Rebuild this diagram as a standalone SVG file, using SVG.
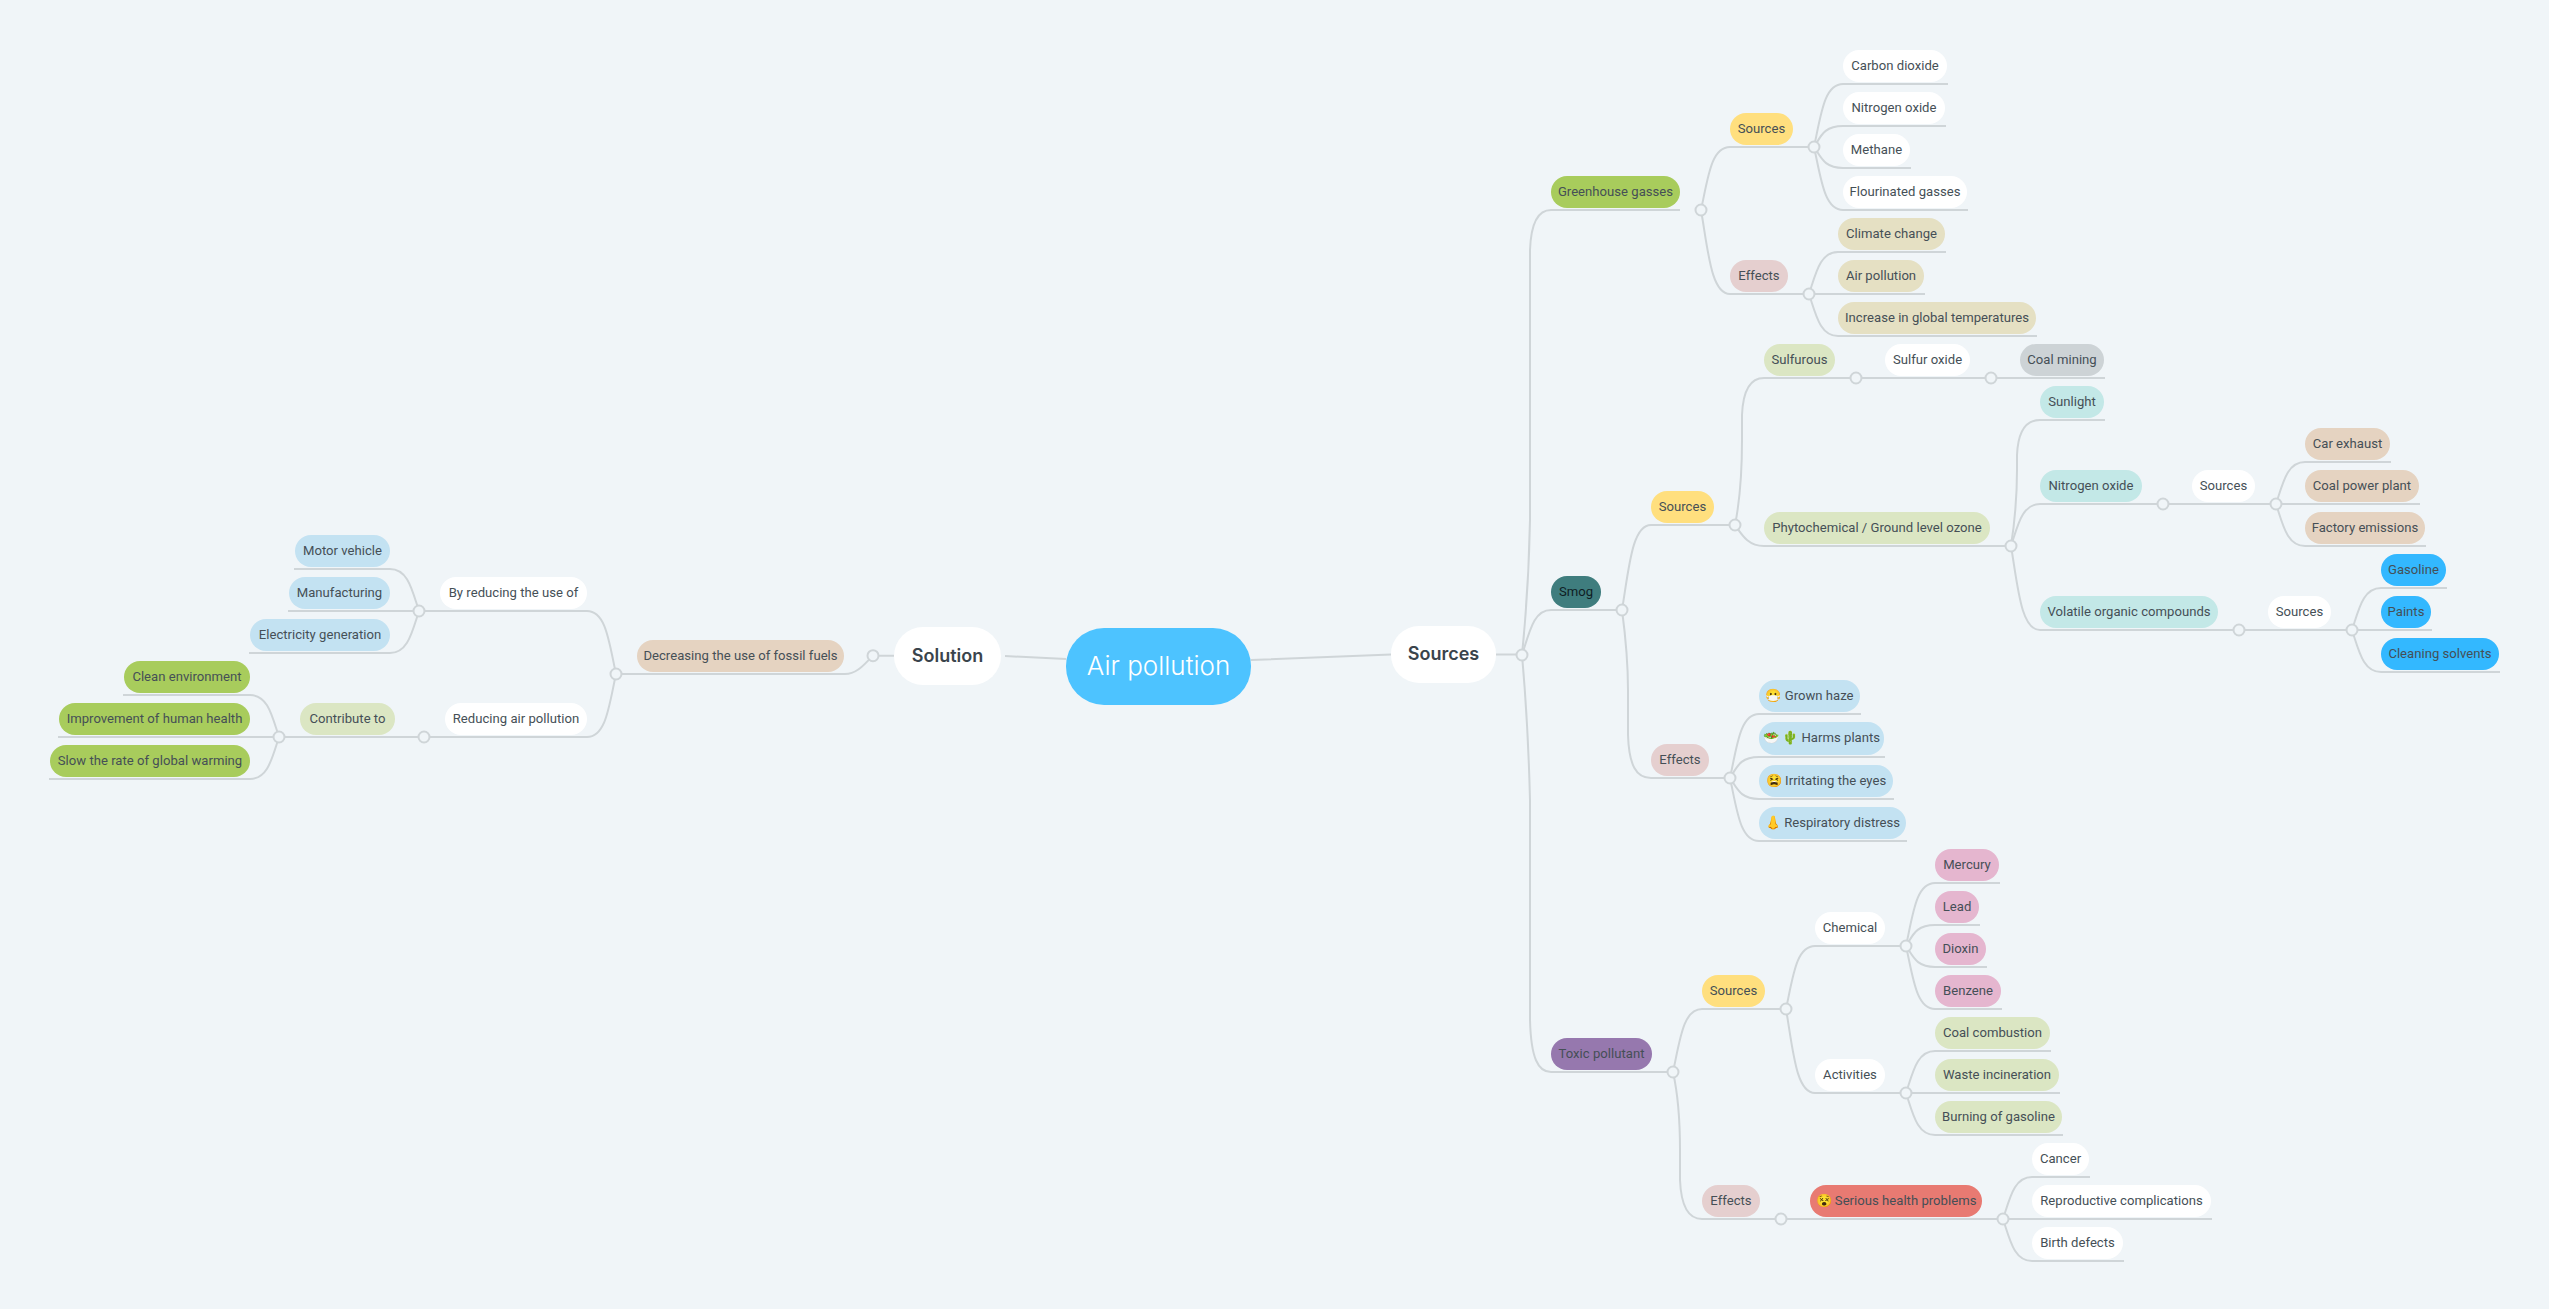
<svg xmlns="http://www.w3.org/2000/svg" width="2549" height="1309" viewBox="0 0 2549 1309">
<style>
.bg{fill:#f0f5f8}
.c{fill:none;stroke:#cfd5d8;stroke-width:2}
.d{fill:#f0f5f8;stroke:#cfd5d8;stroke-width:2}
text{font-family:"Roboto","Noto Sans",sans-serif;font-size:13.1px;letter-spacing:0.02px;fill:#454f56;text-anchor:middle;dominant-baseline:central;transform:translateY(-1px)}
.b{font-family:"Inter","Noto Sans",sans-serif;font-weight:600;font-size:18px;letter-spacing:0;fill:#3a444c}
.r{font-family:"Inter","Noto Sans",sans-serif;font-weight:300;font-size:26px;letter-spacing:0;fill:#fff}
</style>
<rect class="bg" width="2549" height="1309"/>
<g id="connectors">
<path class="c" d="M1251 660L1391 654.5M1496 654.5H1522M1005 656L1066 659M894 655.7H873"/>
<path class="c" d="M1522 655C1526 615 1529 575 1530 520L1530 250C1531 222 1538 210 1551 210H1680"/>
<path class="c" d="M1522 655C1530 630 1534 610 1551 610H1622"/>
<path class="c" d="M1522 655C1526 700 1529 760 1530 800V1020C1531 1058 1538 1072 1551 1072H1673"/>
<path class="c" d="M1701 210C1708 178 1711 147 1730 147H1814"/>
<path class="c" d="M1701 210C1708 250 1711 294 1730 294H1809"/>
<path class="c" d="M1814 147C1821 115 1824 84 1843 84H1948"/>
<path class="c" d="M1814 147C1821 136 1824 126 1843 126H1946"/>
<path class="c" d="M1814 147C1821 157 1824 168 1843 168H1911"/>
<path class="c" d="M1814 147C1821 178 1824 210 1843 210H1968"/>
<path class="c" d="M1809 294C1816 273 1820 252 1838 252H1946"/>
<path class="c" d="M1809 294H1925"/>
<path class="c" d="M1809 294C1816 315 1820 336 1838 336H2037"/>
<path class="c" d="M1622 610C1629 568 1632 525 1651 525H1735"/>
<path class="c" d="M1622 610C1626 640 1628 660 1628 690V735C1629 765 1636 778 1651 778H1730"/>
<path class="c" d="M1735 525C1740 500 1742 470 1742 440V415C1743 390 1750 378 1764 378H1991"/>
<path class="c" d="M1735 525C1742 535 1748 546 1764 546H2011"/>
<path class="c" d="M1991 378H2105"/>
<path class="c" d="M2011 546C2015 520 2017 495 2017 470V455C2018 432 2025 420 2040 420H2105"/>
<path class="c" d="M2011 546C2018 525 2022 504 2040 504H2276"/>
<path class="c" d="M2011 546C2018 588 2021 630 2040 630H2352"/>
<path class="c" d="M2276 504C2283 483 2287 462 2305 462H2391"/>
<path class="c" d="M2276 504H2420"/>
<path class="c" d="M2276 504C2283 525 2287 546 2305 546H2426"/>
<path class="c" d="M2352 630C2359 609 2363 588 2381 588H2447"/>
<path class="c" d="M2352 630H2432"/>
<path class="c" d="M2352 630C2359 651 2363 672 2381 672H2500"/>
<path class="c" d="M1730 778C1737 746 1740 714 1759 714H1861"/>
<path class="c" d="M1730 778C1737 767 1740 757 1759 757H1885"/>
<path class="c" d="M1730 778C1737 788 1740 799 1759 799H1894"/>
<path class="c" d="M1730 778C1737 810 1740 841 1759 841H1907"/>
<path class="c" d="M1673 1072C1680 1040 1683 1009 1702 1009H1786"/>
<path class="c" d="M1673 1072C1677 1090 1680 1110 1680 1150V1180C1681 1205 1688 1219 1702 1219H2003"/>
<path class="c" d="M1786 1009C1793 977 1796 946 1815 946H1906"/>
<path class="c" d="M1786 1009C1793 1050 1796 1093 1815 1093H1906"/>
<path class="c" d="M1906 946C1913 914 1916 883 1935 883H2000"/>
<path class="c" d="M1906 946C1913 935 1916 925 1935 925H1980"/>
<path class="c" d="M1906 946C1913 956 1916 967 1935 967H1987"/>
<path class="c" d="M1906 946C1913 977 1916 1009 1935 1009H2002"/>
<path class="c" d="M1906 1093C1913 1072 1917 1051 1935 1051H2051"/>
<path class="c" d="M1906 1093H2060"/>
<path class="c" d="M1906 1093C1913 1114 1917 1135 1935 1135H2063"/>
<path class="c" d="M2003 1219C2010 1198 2014 1177 2032 1177H2090"/>
<path class="c" d="M2003 1219H2212"/>
<path class="c" d="M2003 1219C2010 1240 2014 1261 2032 1261H2124"/>
<path class="c" d="M873 655.7C866 662 858 674 845 674H616"/>
<path class="c" d="M616 674C609 642 606 611 587 611H419"/>
<path class="c" d="M616 674C609 706 606 737 587 737H279"/>
<path class="c" d="M419 611C412 590 408 569 390 569H294"/>
<path class="c" d="M419 611H288"/>
<path class="c" d="M419 611C412 632 408 653 390 653H249"/>
<path class="c" d="M279 737C272 716 268 695 250 695H123"/>
<path class="c" d="M279 737H58"/>
<path class="c" d="M279 737C272 758 268 779 250 779H49"/>
<g id="joints">
<circle class="d" cx="1522" cy="655" r="5.5"/><circle class="d" cx="1701" cy="210" r="5.5"/><circle class="d" cx="1814" cy="147" r="5.5"/><circle class="d" cx="1809" cy="294" r="5.5"/><circle class="d" cx="1622" cy="610" r="5.5"/><circle class="d" cx="1735" cy="525" r="5.5"/><circle class="d" cx="1856" cy="378" r="5.5"/><circle class="d" cx="1991" cy="378" r="5.5"/><circle class="d" cx="2011" cy="546" r="5.5"/><circle class="d" cx="2163" cy="504" r="5.5"/><circle class="d" cx="2276" cy="504" r="5.5"/><circle class="d" cx="2239" cy="630" r="5.5"/><circle class="d" cx="2352" cy="630" r="5.5"/><circle class="d" cx="1730" cy="778" r="5.5"/><circle class="d" cx="1673" cy="1072" r="5.5"/><circle class="d" cx="1786" cy="1009" r="5.5"/><circle class="d" cx="1906" cy="946" r="5.5"/><circle class="d" cx="1906" cy="1093" r="5.5"/><circle class="d" cx="1781" cy="1219" r="5.5"/><circle class="d" cx="2003" cy="1219" r="5.5"/><circle class="d" cx="873" cy="655.7" r="5.5"/><circle class="d" cx="616" cy="674" r="5.5"/><circle class="d" cx="419" cy="611" r="5.5"/><circle class="d" cx="424" cy="737" r="5.5"/><circle class="d" cx="279" cy="737" r="5.5"/>
</g>
</g>
<g id="root"><rect x="1066" y="628" width="185" height="77" rx="38" fill="#4dc3ff"/><text class="r" x="1158.5" y="666.5">Air pollution</text></g>
<g id="n-sources"><rect x="1391" y="626" width="105" height="57" rx="28" fill="#fff"/><text class="b" x="1443.5" y="654.5">Sources</text></g>
<g id="n-solution"><rect x="894" y="627" width="107" height="58" rx="29" fill="#fff"/><text class="b" x="947.5" y="656">Solution</text></g>
<g id="n-greenhouse"><rect x="1551" y="176" width="129" height="32" rx="16" fill="#a8cc5c"/><text x="1615.5" y="192">Greenhouse gasses</text></g>
<g id="n-gg-sources"><rect x="1730" y="113" width="63" height="32" rx="16" fill="#ffdf7e"/><text x="1761.5" y="129">Sources</text></g>
<g id="n-gg-effects"><rect x="1730" y="260" width="58" height="32" rx="16" fill="#e5cfcf"/><text x="1759" y="276">Effects</text></g>
<g id="n-co2"><rect x="1843" y="50" width="104" height="32" rx="16" fill="#fff"/><text x="1895" y="66">Carbon dioxide</text></g>
<g id="n-nox"><rect x="1843" y="92" width="102" height="32" rx="16" fill="#fff"/><text x="1894" y="108">Nitrogen oxide</text></g>
<g id="n-methane"><rect x="1843" y="134" width="67" height="32" rx="16" fill="#fff"/><text x="1876.5" y="150">Methane</text></g>
<g id="n-flour"><rect x="1843" y="176" width="124" height="32" rx="16" fill="#fff"/><text x="1905" y="192">Flourinated gasses</text></g>
<g id="n-climate"><rect x="1838" y="218" width="107" height="32" rx="16" fill="#e5e0c3"/><text x="1891.5" y="234">Climate change</text></g>
<g id="n-air"><rect x="1838" y="260" width="86" height="32" rx="16" fill="#e5e0c3"/><text x="1881" y="276">Air pollution</text></g>
<g id="n-increase"><rect x="1838" y="302" width="198" height="32" rx="16" fill="#e5e0c3"/><text x="1937" y="318">Increase in global temperatures</text></g>
<g id="n-smog"><rect x="1551" y="576" width="50" height="32" rx="16" fill="#3f7d7e"/><text x="1576" y="592" style="fill:#0f1d24">Smog</text></g>
<g id="n-smog-sources"><rect x="1651" y="491" width="63" height="32" rx="16" fill="#ffdf7e"/><text x="1682.5" y="507">Sources</text></g>
<g id="n-sulfurous"><rect x="1764" y="344" width="71" height="32" rx="16" fill="#dbe6c3"/><text x="1799.5" y="360">Sulfurous</text></g>
<g id="n-sulfur-oxide"><rect x="1885" y="344" width="85" height="32" rx="16" fill="#fff"/><text x="1927.5" y="360">Sulfur oxide</text></g>
<g id="n-coal-mining"><rect x="2020" y="344" width="84" height="32" rx="16" fill="#cdd3d6"/><text x="2062" y="360">Coal mining</text></g>
<g id="n-phyto"><rect x="1764" y="512" width="226" height="32" rx="16" fill="#dbe6c3"/><text x="1877" y="528">Phytochemical / Ground level ozone</text></g>
<g id="n-sunlight"><rect x="2040" y="386" width="64" height="32" rx="16" fill="#c3e8e7"/><text x="2072" y="402">Sunlight</text></g>
<g id="n-nitrogen"><rect x="2040" y="470" width="102" height="32" rx="16" fill="#c3e8e7"/><text x="2091" y="486">Nitrogen oxide</text></g>
<g id="n-nit-sources"><rect x="2192" y="470" width="63" height="32" rx="16" fill="#fff"/><text x="2223.5" y="486">Sources</text></g>
<g id="n-car"><rect x="2305" y="428" width="85" height="32" rx="16" fill="#e5d3c1"/><text x="2347.5" y="444">Car exhaust</text></g>
<g id="n-coalpower"><rect x="2305" y="470" width="114" height="32" rx="16" fill="#e5d3c1"/><text x="2362" y="486">Coal power plant</text></g>
<g id="n-factory"><rect x="2305" y="512" width="120" height="32" rx="16" fill="#e5d3c1"/><text x="2365" y="528">Factory emissions</text></g>
<g id="n-volatile"><rect x="2040" y="596" width="178" height="32" rx="16" fill="#c3e8e7"/><text x="2129" y="612">Volatile organic compounds</text></g>
<g id="n-vol-sources"><rect x="2268" y="596" width="63" height="32" rx="16" fill="#fff"/><text x="2299.5" y="612">Sources</text></g>
<g id="n-gasoline"><rect x="2381" y="554" width="65" height="32" rx="16" fill="#33b8ff"/><text x="2413.5" y="570">Gasoline</text></g>
<g id="n-paints"><rect x="2381" y="596" width="50" height="32" rx="16" fill="#33b8ff"/><text x="2406" y="612">Paints</text></g>
<g id="n-cleaning"><rect x="2381" y="638" width="118" height="32" rx="16" fill="#33b8ff"/><text x="2440" y="654">Cleaning solvents</text></g>
<g id="n-smog-effects"><rect x="1651" y="744" width="58" height="32" rx="16" fill="#e5cfcf"/><text x="1680" y="760">Effects</text></g>
<g id="n-haze"><rect x="1759" y="680" width="101" height="32" rx="16" fill="#c3e2f2"/><text x="1809.5" y="696">😷 Grown haze</text></g>
<g id="n-harms"><rect x="1759" y="722" width="125" height="33" rx="16" fill="#c3e2f2"/><text x="1821.5" y="738.5">🥗 🌵 Harms plants</text></g>
<g id="n-irritating"><rect x="1759" y="765" width="134" height="32" rx="16" fill="#c3e2f2"/><text x="1826" y="781">😫 Irritating the eyes</text></g>
<g id="n-respiratory"><rect x="1759" y="807" width="147" height="32" rx="16" fill="#c3e2f2"/><text x="1832.5" y="823">👃 Respiratory distress</text></g>
<g id="n-toxic"><rect x="1551" y="1038" width="101" height="32" rx="16" fill="#9678ae"/><text x="1601.5" y="1054">Toxic pollutant</text></g>
<g id="n-tox-sources"><rect x="1702" y="975" width="63" height="32" rx="16" fill="#ffdf7e"/><text x="1733.5" y="991">Sources</text></g>
<g id="n-chemical"><rect x="1815" y="912" width="70" height="32" rx="16" fill="#fff"/><text x="1850" y="928">Chemical</text></g>
<g id="n-activities"><rect x="1815" y="1059" width="70" height="32" rx="16" fill="#fff"/><text x="1850" y="1075">Activities</text></g>
<g id="n-mercury"><rect x="1935" y="849" width="64" height="32" rx="16" fill="#e5b6cf"/><text x="1967" y="865">Mercury</text></g>
<g id="n-lead"><rect x="1935" y="891" width="44" height="32" rx="16" fill="#e5b6cf"/><text x="1957" y="907">Lead</text></g>
<g id="n-dioxin"><rect x="1935" y="933" width="51" height="32" rx="16" fill="#e5b6cf"/><text x="1960.5" y="949">Dioxin</text></g>
<g id="n-benzene"><rect x="1935" y="975" width="66" height="32" rx="16" fill="#e5b6cf"/><text x="1968" y="991">Benzene</text></g>
<g id="n-coalcomb"><rect x="1935" y="1017" width="115" height="32" rx="16" fill="#dbe6c3"/><text x="1992.5" y="1033">Coal combustion</text></g>
<g id="n-waste"><rect x="1935" y="1059" width="124" height="32" rx="16" fill="#dbe6c3"/><text x="1997" y="1075">Waste incineration</text></g>
<g id="n-burning"><rect x="1935" y="1101" width="127" height="32" rx="16" fill="#dbe6c3"/><text x="1998.5" y="1117">Burning of gasoline</text></g>
<g id="n-tox-effects"><rect x="1702" y="1185" width="58" height="32" rx="16" fill="#e5cfcf"/><text x="1731" y="1201">Effects</text></g>
<g id="n-serious"><rect x="1810" y="1185" width="172" height="32" rx="16" fill="#e87a72"/><text x="1896" y="1201">😵 Serious health problems</text></g>
<g id="n-cancer"><rect x="2032" y="1143" width="57" height="32" rx="16" fill="#fff"/><text x="2060.5" y="1159">Cancer</text></g>
<g id="n-repro"><rect x="2032" y="1185" width="179" height="32" rx="16" fill="#fff"/><text x="2121.5" y="1201">Reproductive complications</text></g>
<g id="n-birth"><rect x="2032" y="1227" width="91" height="32" rx="16" fill="#fff"/><text x="2077.5" y="1243">Birth defects</text></g>
<g id="n-decreasing"><rect x="637" y="640" width="207" height="32" rx="16" fill="#e5d3c1"/><text x="740.5" y="656">Decreasing the use of fossil fuels</text></g>
<g id="n-byreducing"><rect x="440" y="577" width="147" height="32" rx="16" fill="#fff"/><text x="513.5" y="593">By reducing the use of</text></g>
<g id="n-reducing"><rect x="445" y="703" width="142" height="32" rx="16" fill="#fff"/><text x="516" y="719">Reducing air pollution</text></g>
<g id="n-contribute"><rect x="300" y="703" width="95" height="32" rx="16" fill="#dbe6c3"/><text x="347.5" y="719">Contribute to</text></g>
<g id="n-motor"><rect x="295" y="535" width="95" height="32" rx="16" fill="#c3e2f2"/><text x="342.5" y="551">Motor vehicle</text></g>
<g id="n-manu"><rect x="289" y="577" width="101" height="32" rx="16" fill="#c3e2f2"/><text x="339.5" y="593">Manufacturing</text></g>
<g id="n-electricity"><rect x="250" y="619" width="140" height="32" rx="16" fill="#c3e2f2"/><text x="320" y="635">Electricity generation</text></g>
<g id="n-clean"><rect x="124" y="661" width="126" height="32" rx="16" fill="#a8cc5c"/><text x="187" y="677">Clean environment</text></g>
<g id="n-improve"><rect x="59" y="703" width="191" height="32" rx="16" fill="#a8cc5c"/><text x="154.5" y="719">Improvement of human health</text></g>
<g id="n-slow"><rect x="50" y="745" width="200" height="32" rx="16" fill="#a8cc5c"/><text x="150" y="761">Slow the rate of global warming</text></g>
</svg>
